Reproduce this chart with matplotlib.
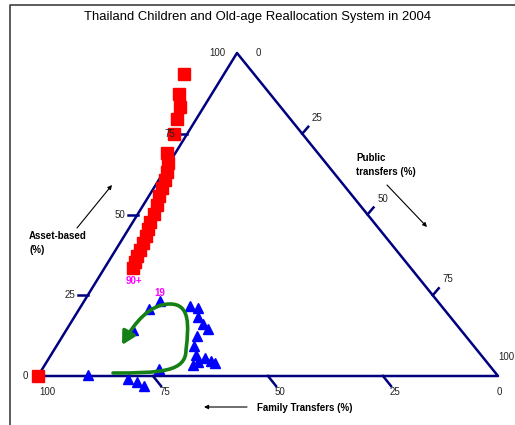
import matplotlib.pyplot as plt
from matplotlib.patches import FancyArrowPatch
from matplotlib.path import Path

plt.rcParams['font.family'] = ['Liberation Sans', 'DejaVu Sans']

# Old-age series (red squares): asset-based and public transfer shares, %
old_asset = [0.0, 93.5, 87.3, 83.3, 79.6, 74.9, 69.0, 65.9, 63.2, 60.7, 58.2,
             55.7, 52.9, 50.2, 47.7, 45.5, 43.3, 41.2, 39.0, 37.2, 35.3, 33.4]
old_public = [0.0, -8.7, -7.2, -5.2, -4.3, -2.9, -1.7, -0.3, 0.8, 1.3, 1.7,
              2.1, 2.9, 3.4, 3.8, 4.3, 4.8, 5.1, 5.4, 5.5, 5.9, 6.1]

# Children series (blue triangles)
child_asset = [0.3, -0.9, -1.9, -3.1, 2.2, 3.4, 4.3, 5.6, 4.6, 4.0, 6.5,
               9.3, 12.4, 14.6, 16.1, 18.3, 21.1, 21.7, 23.2, 20.7, 14.2]
child_public = [10.7, 20.0, 22.3, 24.4, 25.4, 32.2, 32.9, 33.9, 35.6, 36.7, 31.5,
                29.9, 29.2, 30.7, 28.9, 26.9, 25.7, 23.7, 16.5, 15.2, 14.5]

ticks = [25, 50, 75]

# triangle corners in figure pixels: family=100, asset=100, public=100
L = (38, 376)
A = (237, 53)
R = (498, 376)
NAVY = '#000080'
GREY = '#222222'


def tern(asset, public):
    family = 100 - asset - public
    x = (family * L[0] + asset * A[0] + public * R[0]) / 100
    y = (family * L[1] + asset * A[1] + public * R[1]) / 100
    return x, y


fig = plt.figure(figsize=(5.15, 4.25), dpi=100)
ax = fig.add_axes([0, 0, 1, 1])
ax.set_xlim(0, 515)
ax.set_ylim(425, 0)
ax.axis('off')

# chart frame
ax.plot([10, 10, 515], [425, 5, 5], color='#404040', lw=1.2)

ax.text(258, 17, 'Thailand Children and Old-age Reallocation System in 2004',
        ha='center', va='center', fontsize=9.4)

# triangle
ax.plot([L[0], A[0], R[0], L[0]], [L[1], A[1], R[1], L[1]], color=NAVY, lw=1.8, zorder=2)

tfs = 7
for t in ticks:
    # asset axis (left side)
    x, y = tern(t, 0)
    ax.plot([x - 10, x], [y, y], color=NAVY, lw=1.8, zorder=2)
    ax.text(x - 12, y, str(t), ha='right', va='center', fontsize=tfs, color=GREY, zorder=6)
    # public axis (right side)
    x, y = tern(100 - t, t)
    ax.plot([x, x + 6], [y, y - 7], color=NAVY, lw=1.8, zorder=2)
    ax.text(x + 15, y - 16, str(t), ha='center', va='center', fontsize=tfs, color=GREY, zorder=6)
    # family axis (bottom)
    x, y = tern(0, 100 - t)
    ax.plot([x, x + 8], [y, y + 10], color=NAVY, lw=1.8, zorder=2)
    ax.text(x + 12, y + 16, str(t), ha='center', va='center', fontsize=tfs, color=GREY, zorder=6)

# corner labels
ax.text(A[0] - 20, A[1], '100', ha='center', va='center', fontsize=tfs, color=GREY)
ax.text(A[0] + 21, A[1], '0', ha='center', va='center', fontsize=tfs, color=GREY)
ax.text(L[0] - 13, L[1], '0', ha='center', va='center', fontsize=tfs, color=GREY, zorder=6)
ax.text(L[0] + 9, L[1] + 16, '100', ha='center', va='center', fontsize=tfs, color=GREY)
ax.text(R[0] + 8, R[1] - 19, '100', ha='center', va='center', fontsize=tfs, color=GREY)
ax.text(R[0] + 1, R[1] + 16, '0', ha='center', va='center', fontsize=tfs, color=GREY)

# axis titles and direction arrows
ax.text(29, 243, 'Asset-based\n(%)', ha='left', va='center', fontsize=7,
        fontweight='bold', linespacing=1.6)
ax.text(356, 165, 'Public\ntransfers (%)', ha='left', va='center', fontsize=7,
        fontweight='bold', linespacing=1.6)
ax.text(257, 408, 'Family Transfers (%)', ha='left', va='center', fontsize=7, fontweight='bold')
for (x0, y0), (x1, y1) in [((77, 228), (112, 185)), ((387, 185), (427, 227)),
                           ((247, 407), (204, 407))]:
    ax.add_patch(FancyArrowPatch((x0, y0), (x1, y1), arrowstyle='-|>', mutation_scale=6,
                                 color='black', lw=0.8, shrinkA=0, shrinkB=0))

# data
ox, oy = zip(*[tern(a, p) for a, p in zip(old_asset, old_public)])
ax.plot(ox, oy, 's', color='red', mec='red', ms=9.3, ls='none', zorder=4)
cx, cy = zip(*[tern(a, p) for a, p in zip(child_asset, child_public)])
ax.plot(cx, cy, '^', color='blue', mec='blue', ms=7.5, ls='none', zorder=3)

ax.text(ox[-1] + 1, oy[-1] + 13, '90+', ha='center', va='center', fontsize=7,
        fontweight='bold', color='#ff00ff', zorder=6)
ax.text(cx[18], cy[18] - 8, '19', ha='center', va='center', fontsize=7,
        fontweight='bold', color='#ff00ff', zorder=6)

# green loop arrow
verts = [(113, 373), (160, 373), (186, 372), (186, 350),
         (189, 325), (190, 304), (170, 304),
         (150, 304), (135, 322), (122, 345)]
codes = [Path.MOVETO] + [Path.CURVE4] * 9
loop = FancyArrowPatch(path=Path(verts, codes), arrowstyle='-|>,head_length=0.55,head_width=0.3',
                       mutation_scale=14, color='#158015', lw=2.6, zorder=5)
ax.add_patch(loop)

fig.savefig('out.png', dpi=100)
